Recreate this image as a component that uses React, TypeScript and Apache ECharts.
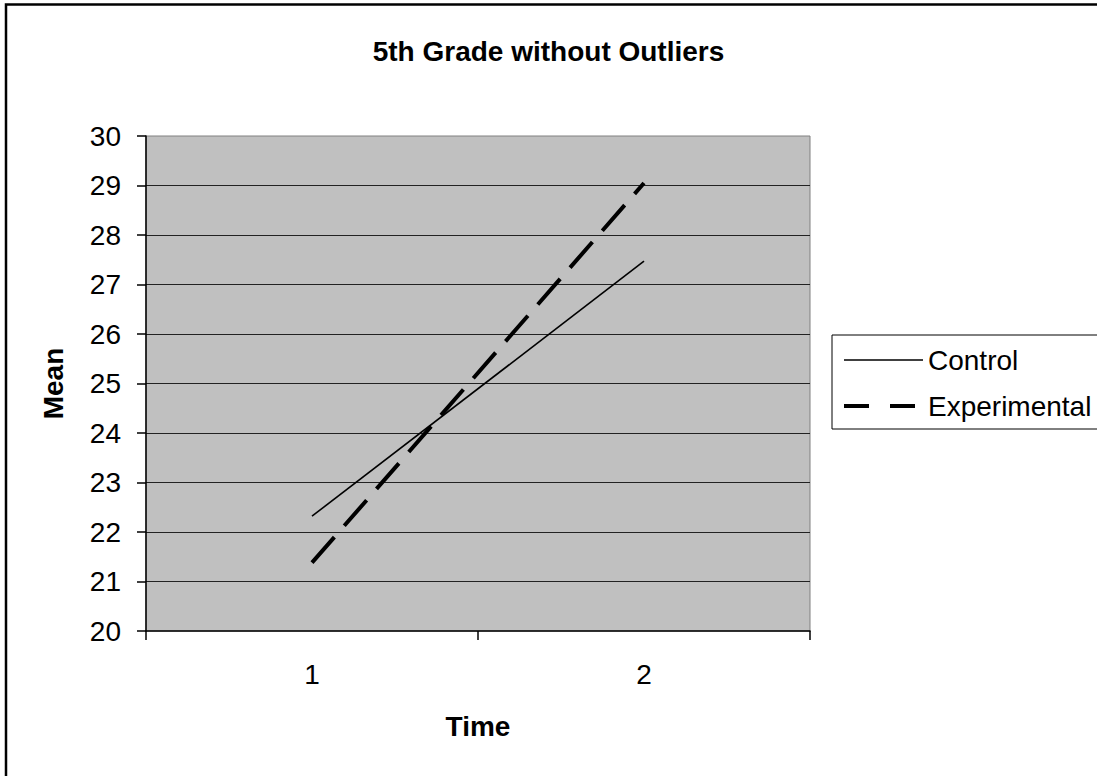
import React, { useEffect, useRef } from "react";
import * as echarts from "echarts";

const categories = ["1", "2"];
const controlValues = [22.32, 27.47];
const experimentalValues = [21.38, 29.05];
const yTicks = { min: 20, max: 30, interval: 1 };
const titleText = "5th Grade without Outliers";
const xName = "Time";
const yName = "Mean";
const seriesNames = ["Control", "Experimental"];

const FONT = "Arial, 'Liberation Sans', sans-serif";

export default function App() {
  const ref = useRef<HTMLDivElement>(null);
  useEffect(() => {
    document.body.style.margin = "0";
    const chart = echarts.init(ref.current!, null, { renderer: "svg" });
    chart.setOption({
      animation: false,
      backgroundColor: "#ffffff",
      textStyle: { fontFamily: FONT },
      title: {
        text: titleText,
        left: "center",
        top: 32,
        textStyle: { fontFamily: FONT, fontSize: 28, fontWeight: "bold", color: "#000" },
      },
      graphic: [
        {
          type: "rect",
          shape: { x: 6, y: 4.5, width: 1300, height: 1000 },
          style: { fill: "none", stroke: "#000", lineWidth: 2.5 },
          silent: true,
        },
      ],
      legend: {
        orient: "vertical",
        left: 832,
        top: 335,
        padding: [11, 10, 9, 10],
        itemGap: 18,
        itemWidth: 79,
        itemHeight: 14,
        borderColor: "#000",
        borderWidth: 1,
        backgroundColor: "#fff",
        textStyle: { fontFamily: FONT, fontSize: 28, color: "#000" },
        data: [
          {
            name: seriesNames[0],
            itemStyle: { opacity: 0 },
            lineStyle: { color: "#000", width: 1.6, type: "solid" },
          },
          {
            name: seriesNames[1],
            itemStyle: { opacity: 0 },
            lineStyle: { color: "#000", width: 4, type: [25, 21] },
          },
        ],
      },
      grid: {
        left: 146,
        top: 136,
        width: 664,
        height: 495,
        show: true,
        backgroundColor: "#C0C0C0",
        borderColor: "#808080",
        borderWidth: 1,
      },
      xAxis: {
        type: "category",
        data: categories,
        boundaryGap: true,
        name: xName,
        nameLocation: "middle",
        nameGap: 81,
        nameTextStyle: { fontFamily: FONT, fontSize: 28, fontWeight: "bold", color: "#000" },
        axisLine: { show: true, lineStyle: { color: "#000", width: 1.5 } },
        axisTick: { show: true, length: 9, lineStyle: { color: "#000", width: 1.5 } },
        axisLabel: { fontFamily: FONT, fontSize: 28, color: "#000", margin: 29 },
        splitLine: { show: false },
      },
      yAxis: {
        type: "value",
        min: yTicks.min,
        max: yTicks.max,
        interval: yTicks.interval,
        name: yName,
        nameLocation: "middle",
        nameGap: 79,
        nameTextStyle: { fontFamily: FONT, fontSize: 28, fontWeight: "bold", color: "#000" },
        axisLine: { show: true, lineStyle: { color: "#000", width: 1.5 } },
        axisTick: { show: true, length: 9, lineStyle: { color: "#000", width: 1.5 } },
        axisLabel: { fontFamily: FONT, fontSize: 28, color: "#000", margin: 25 },
        splitLine: {
          show: true,
          showMinLine: false,
          showMaxLine: false,
          lineStyle: { color: "#222", width: 1.2 },
        },
      },
      series: [
        {
          name: seriesNames[0],
          type: "line",
          data: controlValues,
          symbol: "none",
          lineStyle: { color: "#000", width: 1.6, type: "solid" },
          itemStyle: { color: "#000" },
        },
        {
          name: seriesNames[1],
          type: "line",
          data: experimentalValues,
          symbol: "none",
          lineStyle: { color: "#000", width: 4, type: [34, 15] },
          itemStyle: { color: "#000" },
        },
      ],
    });
    return () => chart.dispose();
  }, []);
  return <div ref={ref} style={{ width: 1097, height: 776 }} />;
}
